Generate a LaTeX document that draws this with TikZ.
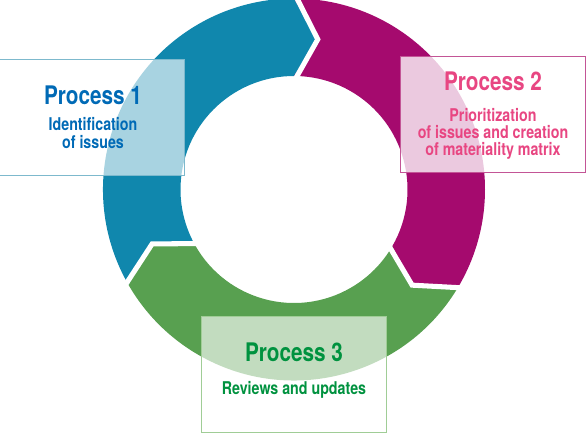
\documentclass[tikz,border=0pt]{standalone}
\usepackage{fontspec}
\setmainfont{TeX Gyre Heros}[FakeStretch=0.81]
\usepackage{tikz}
\usetikzlibrary{positioning}
\definecolor{ringblue}{RGB}{16,135,173}
\definecolor{ringmag}{RGB}{165,10,110}
\definecolor{ringgreen}{RGB}{88,160,80}
\definecolor{textblue}{RGB}{0,106,182}
\definecolor{textpink}{RGB}{232,70,130}
\definecolor{textgreen}{RGB}{0,146,63}
\definecolor{lineblue}{RGB}{125,185,205}
\definecolor{linepink}{RGB}{195,85,150}
\definecolor{linegreen}{RGB}{160,205,150}
% one part of the ring: colour, start angle (notch), end angle (tip)
\newcommand{\ringpart}[3]{%
  \fill[#1] (#2:191) arc[start angle=#2, end angle=#3, radius=191]
    -- ({#3-9}:152) -- (#3:113.5) arc[start angle=#3, end angle=#2, radius=113.5]
    -- ({#2-9}:152) -- cycle;}

\begin{document}
\begin{tikzpicture}[x=0.025cm, y=0.025cm]
\tikzset{gap/.style={draw=white, line width=3.6pt, miter limit=3}}
\tikzset{box/.style={rectangle, fill=white, line width=0.7pt, inner sep=0, minimum width=4.6cm, minimum height=2.875cm}}
\tikzset{title/.style={inner sep=0, anchor=base, font=\bfseries\fontsize{18.2}{20}\selectfont}}
\tikzset{sub/.style={inner sep=0, align=center, font=\bfseries\fontsize{12.5}{12.4}\selectfont}}

\useasboundingbox (-294,-243.5) rectangle (292,189.5);

\ringpart{ringblue}{210}{90}
\ringpart{ringmag}{90}{-30}
\ringpart{ringgreen}{-30}{-150}

\path[gap] (90:197) -- (81:152) -- (90:108);
\path[gap] (-30:197) -- (-39:152) -- (-30:108);
\path[gap] (210:197) -- (201:152) -- (210:108);

\node [box, draw=lineblue, fill opacity=0.64] (b1) at (-202,72) {};
\node [box, draw=linepink, fill opacity=0.78] (b2) at (199,75) {};
\node [box, draw=linegreen, fill opacity=0.64] (b3) at (0,-185) {};

\node [title, textblue] (t1) at (-201,84.5) {Process 1};
\node [sub, textblue, below=8.6pt of t1] (s1) {Identification\\of issues};

\node [title, textpink] (t2) at (199,98.5) {Process 2};
\node [sub, textpink, below=11.5pt of t2] (s2) {Prioritization\\of issues and creation\\of materiality matrix};

\node [title, textgreen] (t3) at (0,-172.5) {Process 3};
\node [sub, textgreen, below=12.9pt of t3] (s3) {Reviews and updates};
\end{tikzpicture}
\end{document}
